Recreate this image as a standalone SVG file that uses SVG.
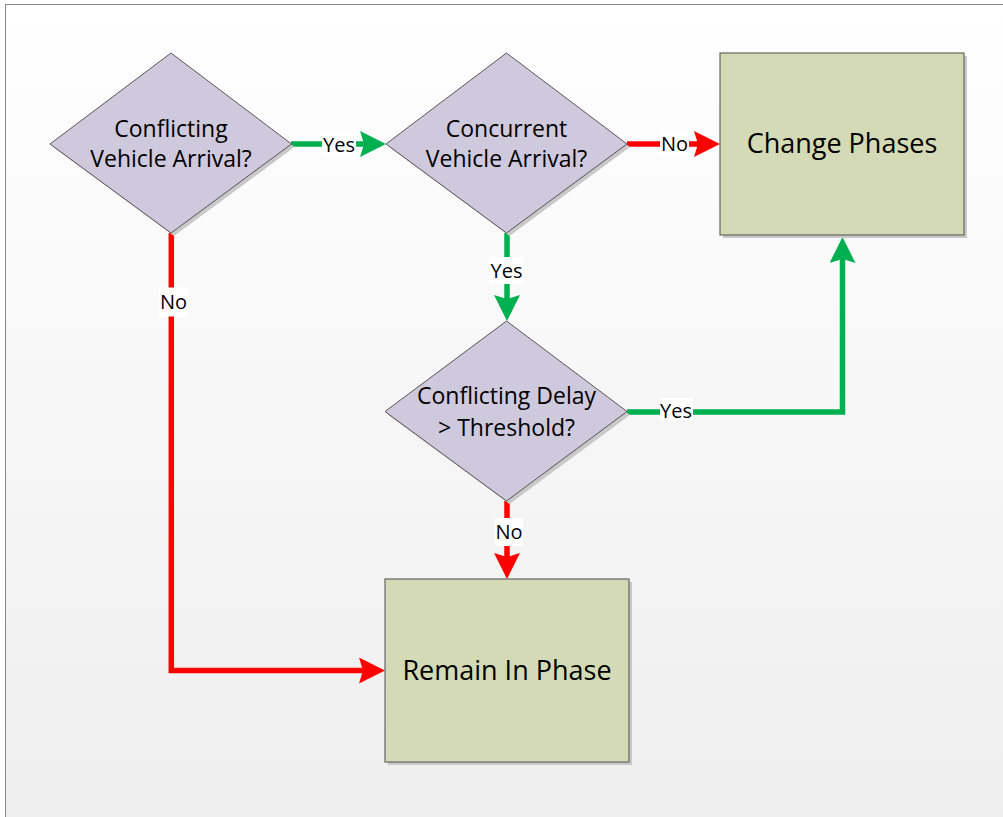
<svg xmlns="http://www.w3.org/2000/svg" width="1003" height="817" viewBox="0 0 1003 817">
<defs>
<linearGradient id="bg" x1="0" y1="0" x2="0" y2="1">
<stop offset="0" stop-color="#FFFFFF"/>
<stop offset="1" stop-color="#EEEEEE"/>
</linearGradient>
<marker id="ag" markerUnits="userSpaceOnUse" viewBox="0 0 26 26" markerWidth="26" markerHeight="26" refX="4" refY="13" orient="auto">
<path d="M0,0 L26,13 L0,26 L4,13 Z" fill="#00B050"/>
</marker>
<marker id="ar" markerUnits="userSpaceOnUse" viewBox="0 0 26 26" markerWidth="26" markerHeight="26" refX="4" refY="13" orient="auto">
<path d="M0,0 L26,13 L0,26 L4,13 Z" fill="#FF0000"/>
</marker>
</defs>
<style>
.shadow{fill:#C9C9C9}
.dia{fill:#CFC9DD;stroke:#555555;stroke-width:1}
.box{fill:#D3DAB5;stroke:#666666;stroke-width:1.2}
.t{font-family:"Open Sans","Noto Sans",sans-serif;font-size:23px;fill:#000;text-anchor:middle}
.big{font-family:"Open Sans","Noto Sans",sans-serif;font-size:27px;fill:#000;text-anchor:middle}
.lbl{font-family:"Open Sans","Noto Sans",sans-serif;font-size:20px;fill:#000;text-anchor:middle}
.lb{fill:#FFFFFF}
.g{fill:none;stroke:#00B050;stroke-width:5.5;stroke-linejoin:miter;marker-end:url(#ag)}
.r{fill:none;stroke:#FF0000;stroke-width:5.5;stroke-linejoin:miter;marker-end:url(#ar)}
</style>
<rect x="0" y="0" width="1003" height="817" fill="#FFFFFF"/>
<rect x="5.5" y="4.5" width="1010" height="830" fill="url(#bg)" stroke="#888888" stroke-width="1"/>

<g id="connectors">
<path class="g" d="M291,144 H364"/>
<path class="r" d="M627,144 H698"/>
<path class="g" d="M507,233 V299"/>
<path class="g" d="M627,412 H842.5 V259"/>
<path class="r" d="M507,501 V557"/>
<path class="r" d="M171.3,233 V670.5 H363"/>
<g id="labels">
<rect class="lb" x="322" y="132" width="34" height="24"/>
<text class="lbl" x="339" y="152">Yes</text>
<rect class="lb" x="660" y="132" width="29" height="24"/>
<text class="lbl" x="674.5" y="151">No</text>
<rect class="lb" x="489.5" y="257" width="34" height="27"/>
<text class="lbl" x="506.5" y="278">Yes</text>
<rect class="lb" x="660" y="398" width="33" height="22"/>
<text class="lbl" x="676" y="418">Yes</text>
<rect class="lb" x="495" y="518" width="28" height="28"/>
<text class="lbl" x="509" y="539">No</text>
<rect class="lb" x="158.5" y="287.5" width="30" height="29"/>
<text class="lbl" x="173.5" y="309">No</text>
</g>
</g>

<g id="d1">
<polygon class="shadow" points="174,56 294.5,147 174,236 53,147"/>
<polygon class="dia" points="171,53 291.5,144 171,233 50,144"/>
<text class="t" x="171" y="137">Conflicting</text>
<text class="t" x="171" y="167">Vehicle Arrival?</text>
</g>
<g id="d2">
<polygon class="shadow" points="509.5,56 630,147 509.5,236 389,147"/>
<polygon class="dia" points="506.5,53 627,144 506.5,233 386,144"/>
<text class="t" x="506.5" y="137">Concurrent</text>
<text class="t" x="506.5" y="167">Vehicle Arrival?</text>
</g>
<g id="d3">
<polygon class="shadow" points="509.5,324 630,415 509.5,504 388,415"/>
<polygon class="dia" points="506.5,321 627,411.5 506.5,501 385,411.5"/>
<text class="t" x="506.5" y="404">Conflicting Delay</text>
<text class="t" x="506.5" y="436">&gt; Threshold?</text>
</g>
<g id="change">
<rect class="shadow" x="723" y="56" width="244" height="182"/>
<rect class="box" x="720" y="53" width="244" height="182"/>
<text class="big" x="842" y="153">Change Phases</text>
</g>
<g id="remain">
<rect class="shadow" x="388" y="582" width="244" height="183"/>
<rect class="box" x="385" y="579" width="244" height="183"/>
<text class="big" x="507" y="680">Remain In Phase</text>
</g>
</svg>
